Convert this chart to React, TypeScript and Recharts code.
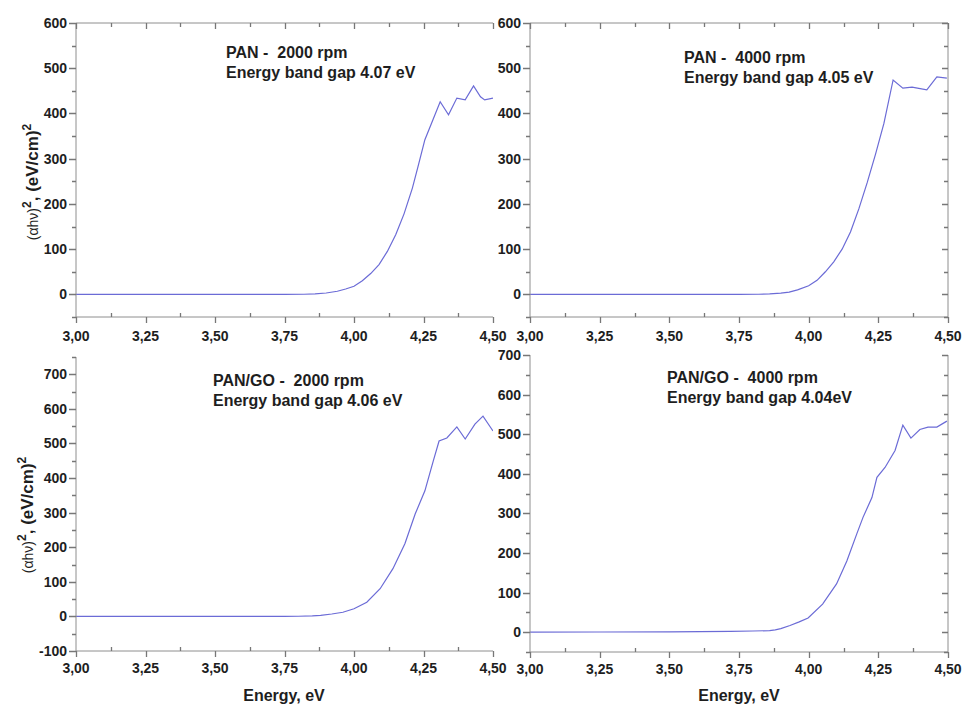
import React from "react";
import { LineChart, Line, XAxis, YAxis, ReferenceLine } from "recharts";

// energy axis (eV)
const energyTicks = [3, 3.25, 3.5, 3.75, 4, 4.25, 4.5];
const energyMinor = [3.125, 3.375, 3.625, 3.875, 4.125, 4.375];

// PAN - 2000 rpm
const pan2000Energy = [3.0, 3.25, 3.5, 3.75, 3.82, 3.86, 3.9, 3.94, 3.97, 4.0, 4.03, 4.06, 4.09, 4.12, 4.15, 4.18, 4.21, 4.23, 4.255, 4.28, 4.31, 4.34, 4.37, 4.4, 4.43, 4.455, 4.47, 4.5];
const pan2000Value = [0, 0, 0, 0, 0.3, 1, 3, 7, 12, 18, 30, 46, 66, 95, 132, 178, 235, 282, 342, 380, 426, 397, 434, 430, 461, 437, 430, 434];

// PAN - 4000 rpm
const pan4000Energy = [3.0, 3.25, 3.5, 3.75, 3.82, 3.86, 3.9, 3.93, 3.96, 4.0, 4.03, 4.06, 4.09, 4.12, 4.15, 4.18, 4.21, 4.24, 4.27, 4.303, 4.338, 4.371, 4.4, 4.424, 4.46, 4.496];
const pan4000Value = [0, 0, 0, 0, 0.3, 1, 3, 5, 10, 19, 31, 50, 72, 100, 138, 189, 247, 310, 378, 474, 456, 458, 455, 452, 481, 478];

// PAN/GO - 2000 rpm
const go2000Energy = [3.0, 3.25, 3.5, 3.75, 3.8, 3.85, 3.88, 3.92, 3.96, 4.0, 4.046, 4.094, 4.14, 4.183, 4.22, 4.255, 4.285, 4.306, 4.334, 4.37, 4.4, 4.435, 4.464, 4.5];
const go2000Value = [0, 0, 0, 0, 0.5, 1.5, 3, 7, 12, 22, 41, 80, 138, 210, 296, 363, 449, 507, 516, 548, 513, 556, 579, 536];

// PAN/GO - 4000 rpm
const go4000Energy = [3.0, 3.25, 3.5, 3.72, 3.8, 3.86, 3.88, 3.9, 3.933, 3.966, 3.998, 4.05, 4.1, 4.137, 4.173, 4.195, 4.227, 4.245, 4.274, 4.31, 4.338, 4.367, 4.399, 4.428, 4.46, 4.496];
const go4000Value = [0, 0.5, 1, 2, 3, 4, 6, 9, 17, 26, 36, 71, 122, 180, 249, 290, 340, 391, 416, 459, 523, 490, 512, 518, 518, 533];

// y ticks
const panYTicks = [0, 100, 200, 300, 400, 500, 600];
const panYMinor = [-50, 50, 150, 250, 350, 450, 550];
const go2000YTicks = [-100, 0, 100, 200, 300, 400, 500, 600, 700];
const go2000YMinor = [-50, 50, 150, 250, 350, 450, 550, 650, 750];
const go4000YTicks = [0, 100, 200, 300, 400, 500, 600, 700];
const go4000YMinor = [-50, 50, 150, 250, 350, 450, 550, 650];

const font = "Arial, 'Liberation Sans', sans-serif";
const ink = "#1e1e1e";
const axisColor = "#8e8e8e";
const tickColor = "#777777";
const lineColor = "#6b6bd6";

const isIn = (arr: number[], v: number) => arr.some((a) => Math.abs(a - v) < 1e-9);
const fmtE = (v: number) => v.toFixed(2).replace(".", ",");

const BottomLabel = (props: any) => {
  const { x, y, payload, labelDy } = props;
  if (!isIn(energyTicks, payload.value)) return <g />;
  return (
    <text x={x} y={y + labelDy} textAnchor="middle" fontFamily={font} fontWeight="bold" fontSize={14} fill={ink}>
      {fmtE(payload.value)}
    </text>
  );
};

const LeftLabel = (props: any) => {
  const { x, y, payload, majors } = props;
  if (!isIn(majors, payload.value)) return <g />;
  return (
    <text x={x - 9} y={y + 5} textAnchor="end" fontFamily={font} fontWeight="bold" fontSize={14} fill={ink}>
      {payload.value}
    </text>
  );
};

interface PanelSpec {
  energy: number[];
  value: number[];
  plotX: number;
  plotY: number;
  plotW: number;
  plotH: number;
  yDomain: [number, number];
  yTicks: number[];
  yMinor: number[];
  labelDy: number;
  frameTop: boolean;
  frameRight: boolean;
}

const panels: PanelSpec[] = [
  { energy: pan2000Energy, value: pan2000Value, plotX: 76, plotY: 23, plotW: 417, plotH: 294, yDomain: [-50, 600], yTicks: panYTicks, yMinor: panYMinor, labelDy: 24, frameTop: true, frameRight: false },
  { energy: pan4000Energy, value: pan4000Value, plotX: 530, plotY: 23, plotW: 418, plotH: 294, yDomain: [-50, 600], yTicks: panYTicks, yMinor: panYMinor, labelDy: 24, frameTop: true, frameRight: true },
  { energy: go2000Energy, value: go2000Value, plotX: 76, plotY: 357, plotW: 417, plotH: 294, yDomain: [-100, 750], yTicks: go2000YTicks, yMinor: go2000YMinor, labelDy: 22, frameTop: false, frameRight: false },
  { energy: go4000Energy, value: go4000Value, plotX: 530, plotY: 355, plotW: 418, plotH: 297, yDomain: [-50, 700], yTicks: go4000YTicks, yMinor: go4000YMinor, labelDy: 22, frameTop: false, frameRight: true },
];

const xTicksAll = [...energyTicks, ...energyMinor].sort((a, b) => a - b);

const Panel: React.FC<PanelSpec> = (p) => {
  const data = p.energy.map((e, i) => ({ e, v: p.value[i] }));
  const yAll = [...p.yTicks, ...p.yMinor].sort((a, b) => a - b);
  const width = 76 + p.plotW + 25;
  const height = 23 + p.plotH + 30;
  return (
    <div style={{ position: "absolute", left: p.plotX - 76, top: p.plotY - 23 }}>
      <LineChart width={width} height={height} data={data} margin={{ top: 23, right: 25, bottom: 0, left: 16 }}>
        <XAxis
          dataKey="e"
          type="number"
          domain={[3, 4.5]}
          allowDataOverflow
          ticks={xTicksAll}
          interval={0}
          height={30}
          tickSize={0}
          tickMargin={0}
          tickLine={false}
          axisLine={{ stroke: axisColor }}
          tick={<BottomLabel labelDy={p.labelDy} />}
        />
        <YAxis
          type="number"
          domain={p.yDomain}
          allowDataOverflow
          ticks={yAll}
          interval={0}
          width={60}
          tickSize={0}
          tickMargin={0}
          tickLine={false}
          axisLine={{ stroke: axisColor }}
          tick={<LeftLabel majors={p.yTicks} />}
        />
        {p.frameTop && <ReferenceLine y={p.yDomain[1]} stroke={axisColor} />}
        {p.frameRight && <ReferenceLine x={4.5} stroke={axisColor} />}
        <Line
          dataKey="v"
          type="linear"
          stroke={lineColor}
          strokeWidth={1.2}
          dot={false}
          isAnimationActive={false}
        />
      </LineChart>
    </div>
  );
};

// tick marks of one panel, same linear mapping as the panel's axes
const PanelTicks: React.FC<PanelSpec> = (p) => {
  const [y0, y1] = p.yDomain;
  const sx = (t: number) => Math.round(p.plotX + ((t - 3) / 1.5) * p.plotW) + 0.5;
  const sy = (v: number) => Math.round(p.plotY + ((y1 - v) / (y1 - y0)) * p.plotH) + 0.5;
  const bottom = p.plotY + p.plotH;
  const right = p.plotX + p.plotW;
  const yAll = [...p.yTicks, ...p.yMinor];
  let d = "";
  xTicksAll.forEach((t) => {
    const major = isIn(energyTicks, t);
    const x = sx(t);
    d += major ? `M${x},${bottom}V${bottom + 6}` : `M${x},${bottom}V${bottom - 4}`;
    if (p.frameTop) d += `M${x},${p.plotY}V${p.plotY + (major ? 6 : 4)}`;
  });
  yAll.forEach((v) => {
    const major = isIn(p.yTicks, v);
    const y = sy(v);
    d += `M${p.plotX},${y}H${p.plotX - (major ? 7 : 4)}`;
    if (p.frameRight) d += `M${right},${y}H${right - (major ? 6 : 4)}`;
  });
  return <path d={d} stroke={tickColor} strokeWidth={1.3} fill="none" />;
};

const YTitle = ({ x, y }: { x: number; y: number }) => (
  <text transform={`translate(${x},${y}) rotate(-90)`} textAnchor="middle" fill={ink} fontFamily={font}>
    <tspan fontSize={14}>(αhν)</tspan>
    <tspan fontSize={12} fontWeight="bold" dy={-7}>2</tspan>
    <tspan fontSize={17} fontWeight="bold" dy={7}>, (eV/cm)</tspan>
    <tspan fontSize={12} fontWeight="bold" dy={-7}>2</tspan>
  </text>
);

const Note = ({ x, y, lines }: { x: number; y: number; lines: string[] }) => (
  <text fontFamily={font} fontWeight="bold" fontSize={16} fill={ink} style={{ whiteSpace: "pre" }}>
    <tspan x={x} y={y}>{lines[0]}</tspan>
    <tspan x={x} y={y + 20}>{lines[1]}</tspan>
  </text>
);

export default function App() {
  return (
    <div style={{ position: "absolute", left: 0, top: 0, width: 963, height: 705, background: "#fff" }}>
      {panels.map((p, i) => (
        <Panel key={i} {...p} />
      ))}
      <svg width={963} height={705} style={{ position: "absolute", left: 0, top: 0, pointerEvents: "none" }}>
        {panels.map((p, i) => (
          <PanelTicks key={i} {...p} />
        ))}
        <YTitle x={38} y={182} />
        <YTitle x={33} y={515} />
        <Note x={226} y={58} lines={["PAN -  2000 rpm", "Energy band gap 4.07 eV"]} />
        <Note x={684} y={63} lines={["PAN -  4000 rpm", "Energy band gap 4.05 eV"]} />
        <Note x={213} y={386} lines={["PAN/GO -  2000 rpm", "Energy band gap 4.06 eV"]} />
        <Note x={667} y={383} lines={["PAN/GO -  4000 rpm", "Energy band gap 4.04eV"]} />
        <text x={284} y={701} textAnchor="middle" fontFamily={font} fontWeight="bold" fontSize={16} fill={ink}>Energy, eV</text>
        <text x={739} y={701} textAnchor="middle" fontFamily={font} fontWeight="bold" fontSize={16} fill={ink}>Energy, eV</text>
      </svg>
    </div>
  );
}
